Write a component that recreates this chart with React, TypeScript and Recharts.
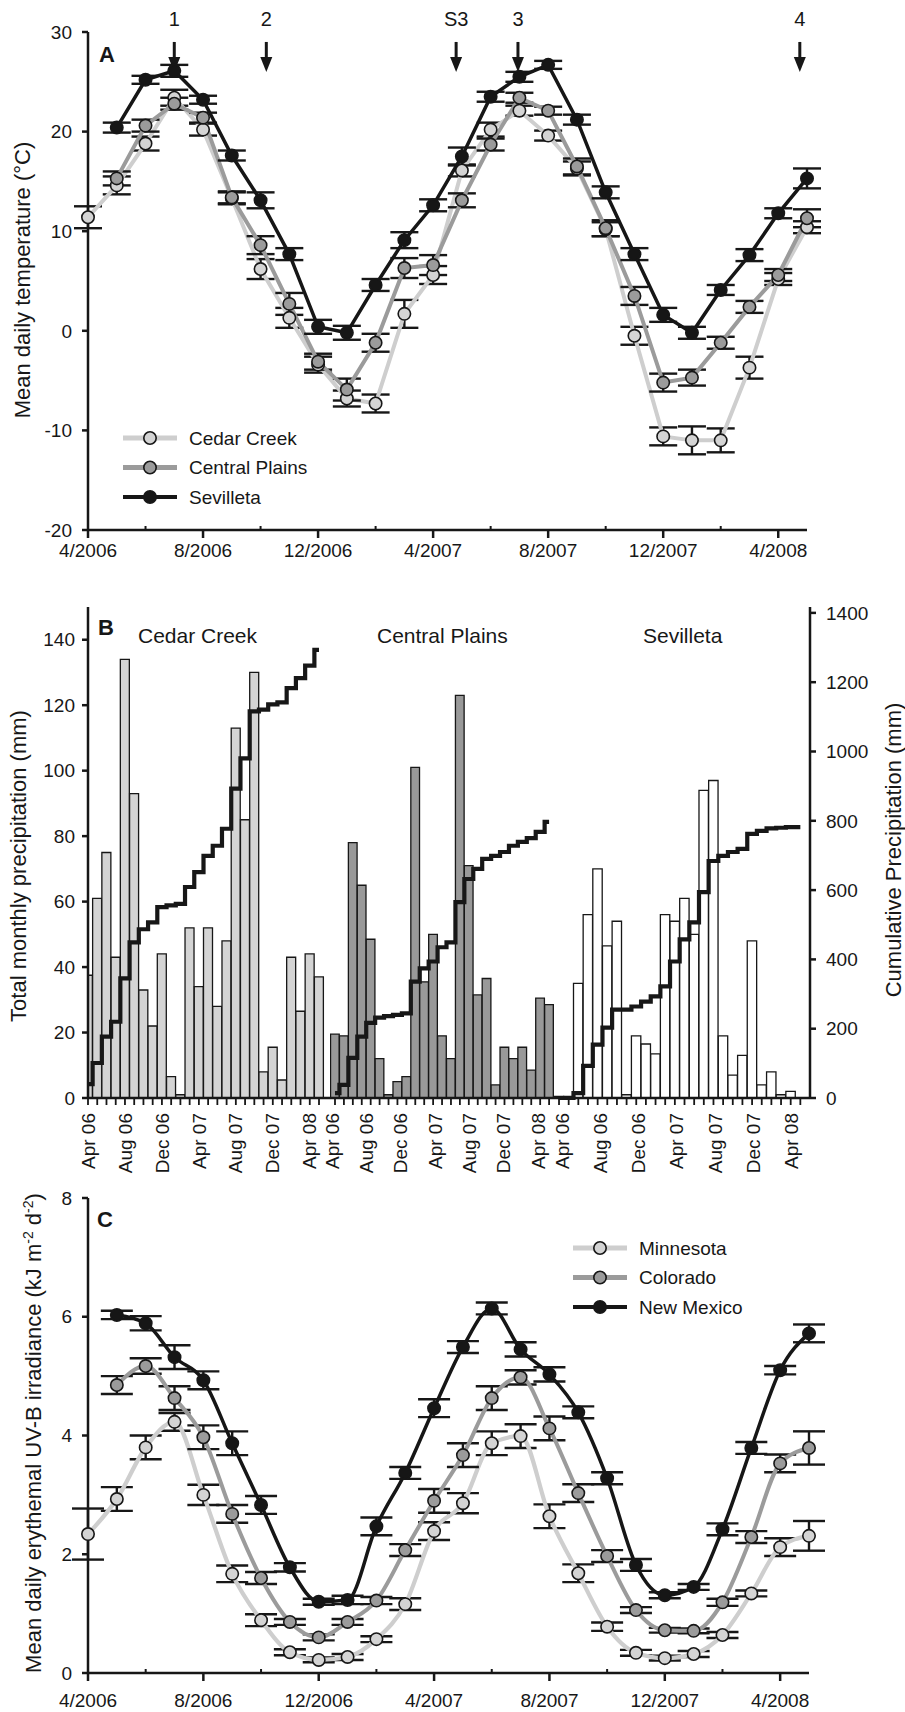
import React from "react";
import { ComposedChart, Line, Bar, XAxis, YAxis, ErrorBar, ReferenceDot } from "recharts";

const FONT = '"Liberation Sans", Arial, Helvetica, sans-serif';
const INK = "#171717";
const PALE = "#d4d4d4";
const PALE_LINE = "#cecece";
const GREY = "#9b9b9b";
const DARK = "#161616";

// months shared by all three panels (x index = position in this list)
const MONTHS = [
  "Apr 06", "May 06", "Jun 06", "Jul 06", "Aug 06", "Sep 06", "Oct 06", "Nov 06", "Dec 06",
  "Jan 07", "Feb 07", "Mar 07", "Apr 07", "May 07", "Jun 07", "Jul 07", "Aug 07", "Sep 07",
  "Oct 07", "Nov 07", "Dec 07", "Jan 08", "Feb 08", "Mar 08", "Apr 08", "May 08",
];
const DATE_TICKS = [0, 2, 4, 6, 8, 10, 12, 14, 16, 18, 20, 22, 24];
const DATE_LABELS = ["4/2006", "8/2006", "12/2006", "4/2007", "8/2007", "12/2007", "4/2008"];

// A - mean daily temperature (°C)
const CEDAR_T = [11.4, 14.6, 18.8, 23.4, 20.2, 13.3, 6.2, 1.3, -3.4, -6.8, -7.3, 1.7, 5.6, 16.1, 20.2, 22.1, 19.6, 16.3, 10.2, -0.5, -10.6, -11.0, -11.0, -3.7, 5.2, 10.4];
const CEDAR_T_SE = [1.1, 0.9, 0.7, 0.8, 0.6, 0.6, 1.0, 1.0, 0.8, 0.8, 0.9, 1.4, 0.9, 0.6, 0.7, 0.5, 0.5, 0.7, 0.7, 0.9, 0.9, 1.4, 1.2, 1.1, 0.6, 0.6];
const PLAINS_T = [null, 15.3, 20.6, 22.8, 21.4, 13.4, 8.6, 2.7, -3.1, -5.9, -1.2, 6.3, 6.6, 13.1, 18.7, 23.4, 22.1, 16.5, 10.3, 3.5, -5.2, -4.7, -1.2, 2.4, 5.6, 11.3];
const PLAINS_T_SE = [null, 0.7, 0.6, 0.6, 0.5, 0.6, 0.9, 1.1, 0.8, 1.1, 0.9, 1.0, 1.0, 0.7, 0.6, 0.5, 0.4, 0.8, 0.8, 0.9, 0.9, 0.8, 0.6, 0.6, 0.6, 0.9];
const SEV_T = [null, 20.4, 25.2, 26.1, 23.2, 17.6, 13.1, 7.7, 0.4, -0.2, 4.6, 9.1, 12.6, 17.5, 23.5, 25.5, 26.7, 21.2, 13.9, 7.7, 1.6, -0.2, 4.1, 7.6, 11.8, 15.3];
const SEV_T_SE = [null, 0.5, 0.4, 0.6, 0.4, 0.5, 0.8, 0.6, 0.7, 0.7, 0.6, 0.8, 0.6, 0.9, 0.5, 0.5, 0.4, 0.5, 0.6, 0.6, 0.7, 0.6, 0.5, 0.6, 0.5, 1.0];
const TEMP_TICKS = [-20, -10, 0, 10, 20, 30];
const ARROW_MONTH = [3, 6.2, 12.8, 14.95, 24.75];
const ARROW_LABEL = ["1", "2", "S3", "3", "4"];

// B - monthly and cumulative precipitation (mm)
const CEDAR_MM = [37.5, 61, 75, 43, 134, 93, 33, 22, 44, 6.5, 1, 52, 34, 52, 28, 48, 113, 85, 130, 8, 15.5, 5.5, 43, 26.5, 44, 37];
const CEDAR_CUM = [40, 101, 177, 220, 345, 449, 487, 507, 551, 556, 560, 609, 652, 699, 728, 777, 893, 980, 1116, 1121, 1136, 1142, 1183, 1212, 1248, 1293];
const PLAINS_MM = [19.5, 19, 78, 65, 48.5, 12, 1, 5, 6.5, 101, 35.5, 50, 19, 12, 123, 71, 31.5, 36.5, 4, 15.5, 12, 15.5, 8.5, 30.5, 28.5];
const PLAINS_CUM = [14, 38, 116, 177, 217, 232, 236, 240, 244, 336, 374, 394, 435, 449, 565, 632, 661, 690, 699, 710, 728, 739, 750, 768, 797];
const SEV_MM = [0.5, 0.5, 35, 56, 70, 46.5, 54, 1, 19, 16.5, 13.5, 56, 54, 61, 50, 94, 97, 19, 7, 13, 48, 4, 8, 1, 2, 0];
const SEV_CUM = [0, 0, 14, 93, 154, 203, 255, 255, 264, 278, 293, 322, 394, 458, 507, 594, 684, 699, 710, 719, 762, 771, 778, 780, 782, 782];
const MM_TICKS = [0, 20, 40, 60, 80, 100, 120, 140];
const CUM_TICKS = [0, 200, 400, 600, 800, 1000, 1200, 1400];

// C - mean daily erythemal UV-B
const MN_UV = [2.34, 2.93, 3.8, 4.23, 3.0, 1.67, 0.89, 0.35, 0.22, 0.27, 0.57, 1.16, 2.39, 2.86, 3.87, 3.99, 2.64, 1.68, 0.78, 0.34, 0.25, 0.32, 0.64, 1.34, 2.12, 2.31];
const MN_UV_SE = [0.43, 0.2, 0.2, 0.15, 0.17, 0.14, 0.1, 0.05, 0.04, 0.05, 0.05, 0.1, 0.15, 0.17, 0.2, 0.2, 0.2, 0.15, 0.07, 0.05, 0.04, 0.05, 0.05, 0.05, 0.15, 0.25];
const CO_UV = [null, 4.85, 5.17, 4.63, 3.97, 2.68, 1.6, 0.86, 0.6, 0.86, 1.22, 2.07, 2.9, 3.67, 4.63, 4.98, 4.12, 3.03, 1.97, 1.06, 0.72, 0.71, 1.19, 2.29, 3.53, 3.79];
const CO_UV_SE = [null, 0.15, 0.13, 0.2, 0.2, 0.15, 0.1, 0.05, 0.05, 0.05, 0.06, 0.1, 0.2, 0.2, 0.2, 0.12, 0.2, 0.15, 0.1, 0.05, 0.04, 0.04, 0.06, 0.1, 0.15, 0.28];
const NM_UV = [null, 6.03, 5.89, 5.32, 4.93, 3.87, 2.83, 1.78, 1.2, 1.23, 2.47, 3.37, 4.46, 5.49, 6.14, 5.45, 5.03, 4.39, 3.28, 1.82, 1.31, 1.45, 2.42, 3.79, 5.1, 5.72];
const NM_UV_SE = [null, 0.07, 0.12, 0.2, 0.15, 0.2, 0.15, 0.07, 0.05, 0.07, 0.15, 0.1, 0.15, 0.1, 0.1, 0.12, 0.12, 0.1, 0.1, 0.1, 0.05, 0.05, 0.1, 0.1, 0.07, 0.15];
const UV_TICKS = [0, 2, 4, 6, 8];

const axisStroke = { stroke: INK, strokeWidth: 2.5 };
const tickText = { fontSize: 19, fill: INK, fontFamily: FONT };

type Pt = { m: number; v: number; e: number };
const toRows = (vals: (number | null)[], errs: (number | null)[]): Pt[] =>
  vals.flatMap((v, m) => (v === null ? [] : [{ m, v, e: errs[m] as number }]));

function DateTick(props: any) {
  const { x, y, payload, labelGap } = props;
  const m = payload.value as number;
  if (m % 4 !== 0) {
    return <line x1={x} x2={x} y1={y} y2={y - 4} stroke={INK} strokeWidth={2} />;
  }
  return (
    <g>
      <line x1={x} x2={x} y1={y} y2={y + 8} stroke={INK} strokeWidth={2.5} />
      <text x={x} y={y + labelGap} textAnchor="middle" fontSize={19} fill={INK} fontFamily={FONT}>
        {DATE_LABELS[m / 4]}
      </text>
    </g>
  );
}

// month tick for panel B; shift/drift nudge the rotated labels the way the source figure sets them
function MonthTick(props: any) {
  const { x, y, payload, shift = 0, drift = 0 } = props;
  const m = payload.value as number;
  const lx = x + shift + drift * m;
  return (
    <g>
      <line x1={x} x2={x} y1={y} y2={y + 7} stroke={INK} strokeWidth={1.8} />
      {m % 4 === 0 && (
        <text
          transform={`translate(${lx},${y + 15}) rotate(-90)`}
          textAnchor="end"
          dy="0.35em"
          fontSize={19}
          fill={INK}
          fontFamily={FONT}
        >
          {MONTHS[m]}
        </text>
      )}
    </g>
  );
}

function Arrow(props: any) {
  const { cx, cy, label } = props;
  return (
    <g>
      <line x1={cx} x2={cx} y1={cy} y2={cy + 18} stroke={INK} strokeWidth={3} />
      <polygon points={`${cx - 6},${cy + 15} ${cx + 6},${cy + 15} ${cx},${cy + 30}`} fill={INK} />
      <text x={cx} y={cy - 16} textAnchor="middle" fontSize={20} fill={INK} fontFamily={FONT}>
        {label}
      </text>
    </g>
  );
}

function seriesLine(key: string, rows: Pt[], color: string, w: number, fill: string, curve: any, cap: number) {
  return (
    <Line
      key={key}
      data={rows}
      dataKey="v"
      type={curve}
      stroke={color}
      strokeWidth={w}
      dot={{ r: 6.2, fill, stroke: INK, strokeWidth: 1.6 }}
      activeDot={false}
      isAnimationActive={false}
    >
      <ErrorBar dataKey="e" width={cap} strokeWidth={2.4} stroke={INK} direction="y" isAnimationActive={false} />
    </Line>
  );
}

function TemperaturePanel() {
  return (
    <div style={{ position: "absolute", left: 0, top: 0 }}>
      <ComposedChart width={905} height={580} margin={{ top: 32, right: 98, bottom: 10, left: 28 }}>
        <XAxis
          type="number"
          dataKey="m"
          domain={[0, 25]}
          ticks={DATE_TICKS}
          interval={0}
          height={40}
          axisLine={axisStroke}
          tickLine={false}
          tickSize={0}
          tickMargin={0}
          tick={<DateTick labelGap={27} />}
        />
        <YAxis
          type="number"
          domain={[-20, 30]}
          ticks={TEMP_TICKS}
          interval={0}
          width={60}
          axisLine={axisStroke}
          tickLine={axisStroke}
          tickSize={6}
          tickMargin={10}
          tick={tickText}
        />
        {seriesLine("cc", toRows(CEDAR_T, CEDAR_T_SE), PALE_LINE, 4, PALE, "linear", 14)}
        {seriesLine("cp", toRows(PLAINS_T, PLAINS_T_SE), GREY, 4, GREY, "linear", 14)}
        {seriesLine("sv", toRows(SEV_T, SEV_T_SE), DARK, 3.5, DARK, "linear", 14)}
        {ARROW_MONTH.map((m, k) => (
          <ReferenceDot
            key={k}
            x={m}
            y={29}
            ifOverflow="visible"
            shape={(p: any) => <Arrow cx={p.cx} cy={p.cy} label={ARROW_LABEL[k]} />}
          />
        ))}
      </ComposedChart>
    </div>
  );
}

type Site = {
  left: number;
  width: number;
  ml: number;
  mr: number;
  domain: [number, number];
  mm: number[];
  cum: number[];
  fill: string;
  barSize: number;
  shift?: number;
  drift?: number;
  leftAxis?: boolean;
  rightAxis?: boolean;
};

function SitePanel({ s }: { s: Site }) {
  const rows = s.mm.map((mm, m) => ({ m, mm, cum: s.cum[m] }));
  return (
    <div style={{ position: "absolute", left: s.left, top: 580 }}>
      <ComposedChart width={s.width} height={600} data={rows} margin={{ top: 27, right: s.mr, bottom: 12, left: s.ml }}>
        <XAxis
          type="number"
          dataKey="m"
          domain={s.domain}
          ticks={rows.map((r) => r.m)}
          interval={0}
          allowDataOverflow
          height={70}
          axisLine={axisStroke}
          tickLine={false}
          tickSize={0}
          tickMargin={0}
          tick={<MonthTick shift={s.shift} drift={s.drift} />}
        />
        <YAxis
          yAxisId="mm"
          type="number"
          domain={[0, 150]}
          ticks={MM_TICKS}
          interval={0}
          hide={!s.leftAxis}
          width={60}
          axisLine={axisStroke}
          tickLine={axisStroke}
          tickSize={6}
          tickMargin={7}
          tick={tickText}
        />
        <YAxis
          yAxisId="cum"
          orientation="right"
          type="number"
          domain={[0, 1417]}
          ticks={CUM_TICKS}
          interval={0}
          hide={!s.rightAxis}
          width={60}
          axisLine={axisStroke}
          tickLine={axisStroke}
          tickSize={6}
          tickMargin={10}
          tick={tickText}
        />
        <Bar yAxisId="mm" dataKey="mm" fill={s.fill} stroke={INK} strokeWidth={1.3} barSize={s.barSize} isAnimationActive={false} />
        <Line
          yAxisId="cum"
          dataKey="cum"
          type="step"
          stroke={INK}
          strokeWidth={4.2}
          dot={false}
          activeDot={false}
          isAnimationActive={false}
        />
      </ComposedChart>
    </div>
  );
}

// ml / mr are the margins outside the visible axes (a shown axis adds its own 60px);
// the svgs overlap by 10px so edge labels are not cut
const SITES: Site[] = [
  { left: 0, width: 340, ml: 28, mr: 10, domain: [0, 26.19], mm: CEDAR_MM, cum: CEDAR_CUM, fill: PALE, barSize: 9, leftAxis: true },
  { left: 320, width: 244, ml: 10, mr: 10, domain: [-0.56, 24.55], mm: PLAINS_MM, cum: PLAINS_CUM, fill: "#999999", barSize: 8.7, shift: -3, drift: -0.34 },
  { left: 544, width: 361, ml: 10, mr: 35, domain: [-0.52, 26.0], mm: SEV_MM, cum: SEV_CUM, fill: "#ffffff", barSize: 9.4, shift: 3, drift: -0.1, rightAxis: true },
];

function UvPanel() {
  return (
    <div style={{ position: "absolute", left: 0, top: 1160 }}>
      <ComposedChart width={905} height={552} margin={{ top: 38, right: 96, bottom: 0, left: 28 }}>
        <XAxis
          type="number"
          dataKey="m"
          domain={[0, 25]}
          ticks={DATE_TICKS}
          interval={0}
          height={39}
          axisLine={axisStroke}
          tickLine={false}
          tickSize={0}
          tickMargin={0}
          tick={<DateTick labelGap={34} />}
        />
        <YAxis
          type="number"
          domain={[0, 8]}
          ticks={UV_TICKS}
          interval={0}
          width={60}
          axisLine={axisStroke}
          tickLine={axisStroke}
          tickSize={6}
          tickMargin={10}
          tick={tickText}
        />
        {seriesLine("mn", toRows(MN_UV, MN_UV_SE), PALE_LINE, 4.2, PALE, "monotone", 16)}
        {seriesLine("co", toRows(CO_UV, CO_UV_SE), GREY, 4, GREY, "monotone", 16)}
        {seriesLine("nm", toRows(NM_UV, NM_UV_SE), DARK, 3.5, DARK, "monotone", 16)}
      </ComposedChart>
    </div>
  );
}

const LEGEND_A = [
  { name: "Cedar Creek", line: PALE_LINE, fill: PALE, w: 5 },
  { name: "Central Plains", line: GREY, fill: GREY, w: 5 },
  { name: "Sevilleta", line: DARK, fill: DARK, w: 4 },
];
const LEGEND_C = [
  { name: "Minnesota", line: PALE_LINE, fill: PALE, w: 5 },
  { name: "Colorado", line: GREY, fill: GREY, w: 5 },
  { name: "New Mexico", line: DARK, fill: DARK, w: 4 },
];

function LegendRows({ items, x, y, gap }: { items: typeof LEGEND_A; x: number; y: number; gap: number }) {
  return (
    <g>
      {items.map((it, k) => {
        const cy = y + k * gap;
        return (
          <g key={it.name}>
            <line x1={x} x2={x + 54} y1={cy} y2={cy} stroke={it.line} strokeWidth={it.w} />
            <circle cx={x + 27} cy={cy} r={6.2} fill={it.fill} stroke={INK} strokeWidth={1.6} />
            <text x={x + 66} y={cy} dy="0.35em" fontSize={19} fill={INK} fontFamily={FONT}>
              {it.name}
            </text>
          </g>
        );
      })}
    </g>
  );
}

function Annotations() {
  return (
    <svg
      width={905}
      height={1712}
      style={{ position: "absolute", left: 0, top: 0, pointerEvents: "none" }}
      fontFamily={FONT}
      fill={INK}
    >
      <text x={99} y={62} fontSize={22} fontWeight="bold">A</text>
      <text x={98} y={635} fontSize={22} fontWeight="bold">B</text>
      <text x={97} y={1227} fontSize={22} fontWeight="bold">C</text>

      <text x={138} y={643} fontSize={21}>Cedar Creek</text>
      <text x={377} y={643} fontSize={21}>Central Plains</text>
      <text x={643} y={643} fontSize={21}>Sevilleta</text>

      <text transform="translate(22,280) rotate(-90)" textAnchor="middle" dy="0.35em" fontSize={22}>
        Mean daily temperature (°C)
      </text>
      <text transform="translate(18,866) rotate(-90)" textAnchor="middle" dy="0.35em" fontSize={22}>
        Total monthly precipitation (mm)
      </text>
      <text transform="translate(893,850) rotate(-90)" textAnchor="middle" dy="0.35em" fontSize={22}>
        Cumulative Precipitation (mm)
      </text>
      <text transform="translate(33,1433) rotate(-90)" textAnchor="middle" dy="0.35em" fontSize={22}>
        Mean daily erythemal UV-B irradiance (kJ m
        <tspan dy={-8} fontSize={14}>-2</tspan>
        <tspan dy={8}> d</tspan>
        <tspan dy={-8} fontSize={14}>-2</tspan>
        <tspan dy={8}>)</tspan>
      </text>

      <LegendRows items={LEGEND_A} x={123} y={438} gap={29.5} />
      <LegendRows items={LEGEND_C} x={573} y={1248} gap={29.5} />
    </svg>
  );
}

export default function App() {
  return (
    <div style={{ position: "absolute", left: 0, top: 0, width: 905, height: 1712, background: "#fff", fontFamily: FONT }}>
      <TemperaturePanel />
      {SITES.map((s, k) => (
        <SitePanel key={k} s={s} />
      ))}
      <UvPanel />
      <Annotations />
    </div>
  );
}
